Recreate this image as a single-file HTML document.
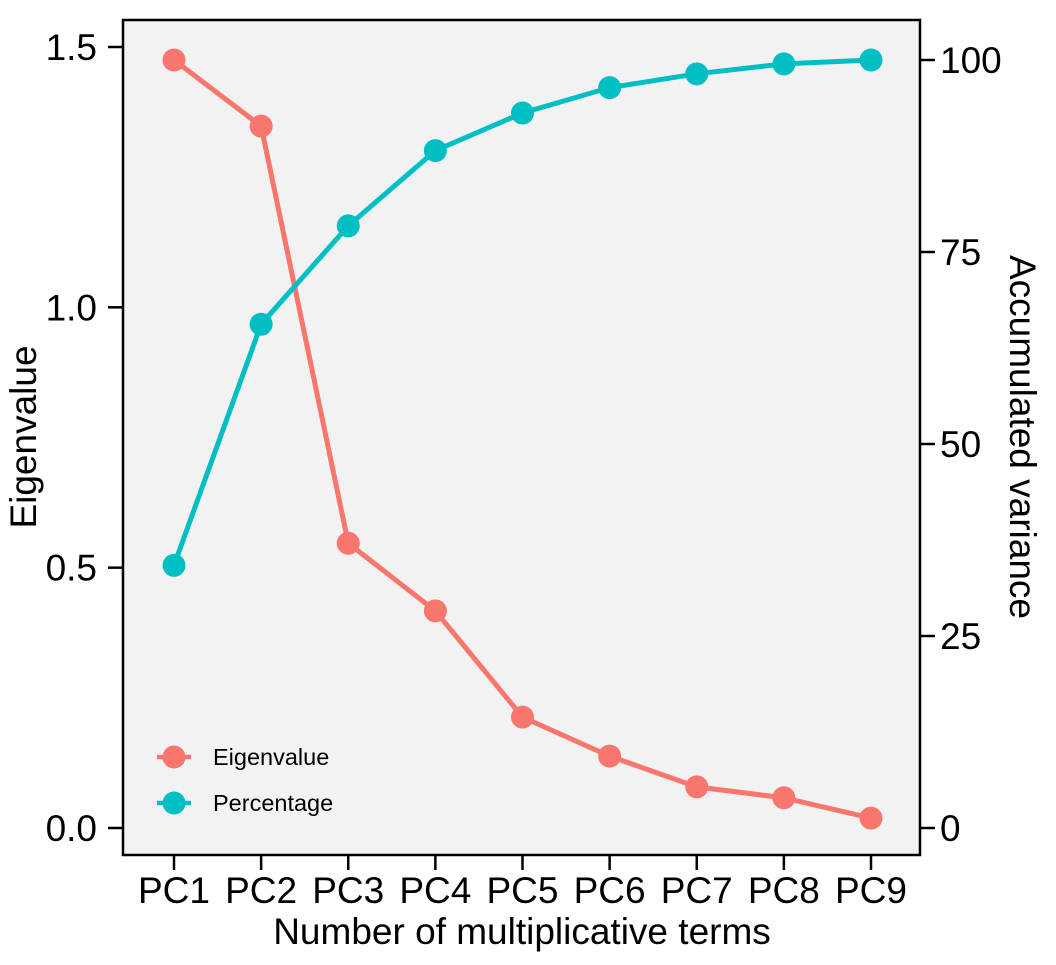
<!DOCTYPE html>
<html><head><meta charset="utf-8"><style>
body{margin:0;background:#fff;}
svg text{font-family:"Liberation Sans",Arial,sans-serif;}
</style></head><body>
<svg id="chart" width="1056" height="960" xmlns="http://www.w3.org/2000/svg">
<rect x="123" y="20" width="797" height="835" fill="#F2F2F2" stroke="#000" stroke-width="2.5"/>
<g id="axes"></g>
<g id="series"></g>
<text x="522" y="944" font-size="37" text-anchor="middle">Number of multiplicative terms</text>
<text transform="translate(36,437) rotate(-90)" font-size="37" text-anchor="middle">Eigenvalue</text>
<text transform="translate(1010,437) rotate(90)" font-size="37" text-anchor="middle">Accumulated variance</text>
<g>
<g>
<line x1="157" y1="757" x2="191" y2="757" stroke="#F8766D" stroke-width="4.5"/>
<circle cx="174" cy="757" r="11.5" fill="#F8766D"/>
<text x="213" y="765" font-size="23.5">Eigenvalue</text></g>
<g>
<line x1="157" y1="803" x2="191" y2="803" stroke="#00BFC4" stroke-width="4.5"/>
<circle cx="174" cy="803" r="11.5" fill="#00BFC4"/>
<text x="213" y="811" font-size="23.5">Percentage</text></g>
</g>
</svg>
<script>
const categories=["PC1","PC2","PC3","PC4","PC5","PC6","PC7","PC8","PC9"];
const eigenvalues=[1.475,1.348,0.547,0.417,0.213,0.138,0.079,0.058,0.019];
const percentages=[34.2,65.6,78.4,88.2,93.1,96.4,98.2,99.5,100];
const leftTicks=[0,0.5,1.0,1.5];
const leftTickLabels=["0.0","0.5","1.0","1.5"];
const rightTicks=[0,25,50,75,100];

const NS="http://www.w3.org/2000/svg";
const xS=i=>174+i*(871-174)/(categories.length-1);
const yL=v=>828-v*(828-47)/1.5;
const yR=v=>828-v*(828-60)/100;
function mk(tag,attrs,parent,txt){const e=document.createElementNS(NS,tag);for(const k in attrs)e.setAttribute(k,attrs[k]);if(txt!==undefined)e.textContent=txt;parent.appendChild(e);return e;}
const axes=document.getElementById('axes'),ser=document.getElementById('series');
leftTicks.forEach((t,i)=>{
  const l=mk('line',{x1:108,x2:123,y1:yL(t),y2:yL(t),stroke:'#000','stroke-width':2.5},axes);
  
  
  const tx=mk('text',{x:97,y:yL(t)+13,'font-size':37,'text-anchor':'end'},axes,leftTickLabels[i]);
  
  
});
rightTicks.forEach(t=>{
  const l=mk('line',{x1:920,x2:935,y1:yR(t),y2:yR(t),stroke:'#000','stroke-width':2.5},axes);
  
  
  const tx=mk('text',{x:940,y:yR(t)+13,'font-size':37},axes,String(t));
  
  
});
categories.forEach((c,i)=>{
  const l=mk('line',{x1:xS(i),x2:xS(i),y1:855,y2:870,stroke:'#000','stroke-width':2.5},axes);
  
  
  const tx=mk('text',{x:xS(i),y:903,'font-size':37,'text-anchor':'middle'},axes,c);
  
  
});
function series(vals,yf,color,name){
  const p=mk('polyline',{points:vals.map((v,i)=>xS(i)+','+yf(v)).join(' '),fill:'none',stroke:color,'stroke-width':5},ser);
  
  
  vals.forEach((v,i)=>{
    const c=mk('circle',{cx:xS(i),cy:yf(v),r:11.5,fill:color},ser);
    
    
  });
}
series(eigenvalues,yL,'#F8766D','eigenvalue');
series(percentages,yR,'#00BFC4','percentage');
</script>
</body></html>
